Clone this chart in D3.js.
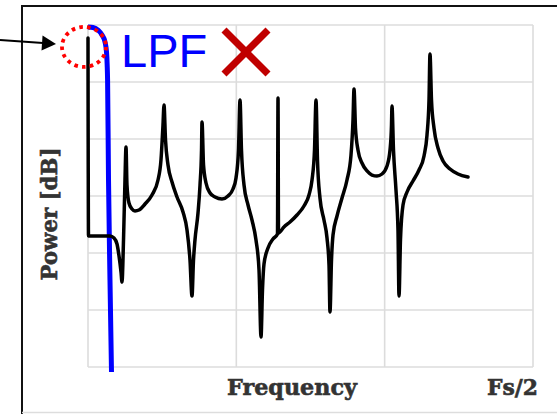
<!DOCTYPE html>
<html>
<head>
<meta charset="utf-8">
<script src="https://cdn.jsdelivr.net/npm/d3@7"></script>
<style>
  html, body { margin: 0; padding: 0; background: #fff; }
  svg { display: block; }
  .lbl { font-family: "DejaVu Serif", serif; font-weight: bold; fill: #333; stroke: #333; stroke-width: 0.6; }
</style>
</head>
<body>
<div id="chart"></div>
<script>
// grid positions: frequency normalised to Fs/2, power in dB
const gridFreq = [0, 1 / 3, 2 / 3, 1];
const gridDb = [0, -10, -20, -30, -40, -50, -60];

// measured spectrum (normalised frequency, dB)
const spectrum = [
  [0, -2.28], [0.0011, -37.02], [0.0494, -37.02], [0.0584, -37.37], [0.0652, -38.42],
  [0.0697, -40.53], [0.0742, -43.33], [0.0764, -45.09], [0.0798, -37.72], [0.0831, -27.19],
  [0.0854, -21.40], [0.0876, -28.07], [0.0921, -31.23], [0.0989, -32.28], [0.1056, -32.63],
  [0.1146, -32.46], [0.1281, -31.40], [0.1438, -29.82], [0.1573, -27.19], [0.1640, -23.68],
  [0.1685, -17.54], [0.1708, -14.04], [0.1742, -20.18], [0.1798, -24.56], [0.1888, -27.54],
  [0.2000, -30.18], [0.2135, -32.81], [0.2225, -35.96], [0.2292, -41.23], [0.2337, -47.54],
  [0.2371, -41.23], [0.2404, -37.72], [0.2472, -32.98], [0.2517, -28.07], [0.2551, -21.93],
  [0.2562, -17.02], [0.2596, -24.56], [0.2652, -27.72], [0.2742, -29.47], [0.2854, -30.18],
  [0.3011, -30.53], [0.3146, -30.00], [0.3258, -28.77], [0.3326, -26.84], [0.3382, -21.93],
  [0.3416, -13.16], [0.3449, -21.93], [0.3506, -28.07], [0.3596, -31.58], [0.3685, -34.21],
  [0.3775, -37.72], [0.3843, -42.98], [0.3888, -54.74], [0.3921, -46.49], [0.3955, -41.93],
  [0.4045, -39.12], [0.4157, -37.54], [0.4258, -36.67], [0.4270, -12.81], [0.4281, -36.49],
  [0.4404, -35.44], [0.4539, -34.56], [0.4697, -33.33], [0.4854, -31.75], [0.4966, -29.82],
  [0.5034, -27.19], [0.5090, -21.93], [0.5124, -13.16], [0.5157, -23.68], [0.5213, -30.35],
  [0.5303, -34.21], [0.5371, -37.37], [0.5416, -42.11], [0.5438, -50.35], [0.5472, -41.23],
  [0.5506, -36.84], [0.5596, -33.51], [0.5708, -30.35], [0.5820, -27.19], [0.5910, -22.81],
  [0.5955, -16.67], [0.5978, -11.23], [0.6011, -18.07], [0.6067, -21.93], [0.6157, -24.21],
  [0.6270, -25.61], [0.6382, -26.32], [0.6494, -26.49], [0.6607, -26.14], [0.6719, -24.74],
  [0.6787, -21.93], [0.6820, -17.54], [0.6831, -14.21], [0.6865, -21.93], [0.6921, -28.95],
  [0.6966, -35.96], [0.6989, -47.54], [0.7022, -37.72], [0.7079, -31.58], [0.7169, -29.30],
  [0.7303, -27.37], [0.7438, -25.44], [0.7551, -22.98], [0.7618, -19.30], [0.7663, -13.16],
  [0.7685, -5.09], [0.7719, -13.16], [0.7775, -18.07], [0.7865, -21.58], [0.7978, -23.86],
  [0.8135, -25.26], [0.8315, -26.14], [0.8539, -26.67]
];

// low pass filter response
const lpf = [
  [0, -0.35], [0.0112, -0.44], [0.0225, -0.88], [0.0315, -1.75], [0.0382, -2.98],
  [0.0416, -4.74], [0.0431, -7.02], [0.0440, -9.65], [0.0461, -27.19], [0.0494, -44.74],
  [0.0528, -60.88]
];

const xTitle = "Frequency";
const xEndLabel = "Fs/2";
const yTitle = "Power [dB]";
const noteText = "LPF";

const W = 557, H = 414;
const svg = d3.select("#chart").append("svg")
  .attr("width", W).attr("height", H);

svg.append("rect").attr("width", W).attr("height", H).attr("fill", "#fff");

const x = d3.scaleLinear().domain([0, 1]).range([88, 533]);
const y = d3.scaleLinear().domain([-60, 0]).range([367, 25]);

// outer frame (left/top dark, bottom light)
svg.append("path").attr("d", "M22,414 L22,6 L557,6")
  .attr("fill", "none").attr("stroke", "#111").attr("stroke-width", 2);
svg.append("line").attr("x1", 22).attr("x2", W).attr("y1", 412.5).attr("y2", 412.5)
  .attr("stroke", "#ddd").attr("stroke-width", 1.5);

// grid
const grid = svg.append("g").attr("stroke", "#dcdcdc").attr("stroke-width", 1.6);
grid.selectAll("line.v").data(gridFreq).join("line").attr("class", "v")
  .attr("x1", d => x(d)).attr("x2", d => x(d))
  .attr("y1", y(0)).attr("y2", y(-60));
grid.selectAll("line.h").data(gridDb).join("line").attr("class", "h")
  .attr("x1", x(0)).attr("x2", x(1))
  .attr("y1", d => y(d)).attr("y2", d => y(d));

const line = d3.line()
  .x(d => x(d[0])).y(d => y(d[1]))
  .curve(d3.curveMonotoneX);

svg.append("path").datum(lpf)
  .attr("d", line)
  .attr("fill", "none").attr("stroke", "#0000ff").attr("stroke-width", 5);

svg.append("path").datum(spectrum)
  .attr("d", line)
  .attr("fill", "none").attr("stroke", "#000").attr("stroke-width", 3.5)
  .attr("stroke-linejoin", "round").attr("stroke-linecap", "round");

// dotted circle round the DC component
svg.append("ellipse")
  .attr("cx", x(0) - 4).attr("cy", y(-3.85))
  .attr("rx", 22).attr("ry", 20)
  .attr("fill", "none").attr("stroke", "#ff0000").attr("stroke-width", 3.8)
  .attr("stroke-dasharray", "3.6 4.2");

// arrow pointing at it
const tip = [56, 44], tail = [0, 40];
const ang = Math.atan2(tip[1] - tail[1], tip[0] - tail[0]);
const hl = 14, hw = 7.5;
const bx = tip[0] - hl * Math.cos(ang), by = tip[1] - hl * Math.sin(ang);
svg.append("line")
  .attr("x1", tail[0]).attr("y1", tail[1]).attr("x2", bx + 1).attr("y2", by)
  .attr("stroke", "#000").attr("stroke-width", 2);
svg.append("polygon")
  .attr("points", [
    tip,
    [bx - hw * Math.sin(ang), by + hw * Math.cos(ang)],
    [bx + hw * Math.sin(ang), by - hw * Math.cos(ang)]
  ].map(p => p.join(",")).join(" "))
  .attr("fill", "#000");

// LPF note and cross
svg.append("text")
  .attr("x", 121).attr("y", 67)
  .attr("font-family", "Liberation Sans, Arial, sans-serif")
  .attr("font-size", 47).attr("fill", "#0000ff")
  .text(noteText);

const cross = svg.append("g").attr("stroke", "#c00000").attr("stroke-width", 7);
cross.append("line").attr("x1", 224).attr("y1", 30).attr("x2", 268).attr("y2", 74);
cross.append("line").attr("x1", 268).attr("y1", 30).attr("x2", 224).attr("y2", 74);

// axis titles
svg.append("text").attr("class", "lbl")
  .attr("x", 227).attr("y", 395).attr("font-size", 23)
  .attr("textLength", 130).attr("lengthAdjust", "spacingAndGlyphs")
  .text(xTitle);

svg.append("text").attr("class", "lbl")
  .attr("x", 487).attr("y", 395).attr("font-size", 23)
  .attr("textLength", 51).attr("lengthAdjust", "spacingAndGlyphs")
  .text(xEndLabel);

svg.append("text").attr("class", "lbl")
  .attr("transform", "translate(57,214) rotate(-90)")
  .attr("text-anchor", "middle").attr("font-size", 23)
  .attr("textLength", 133).attr("lengthAdjust", "spacingAndGlyphs")
  .text(yTitle);
</script>
</body>
</html>
